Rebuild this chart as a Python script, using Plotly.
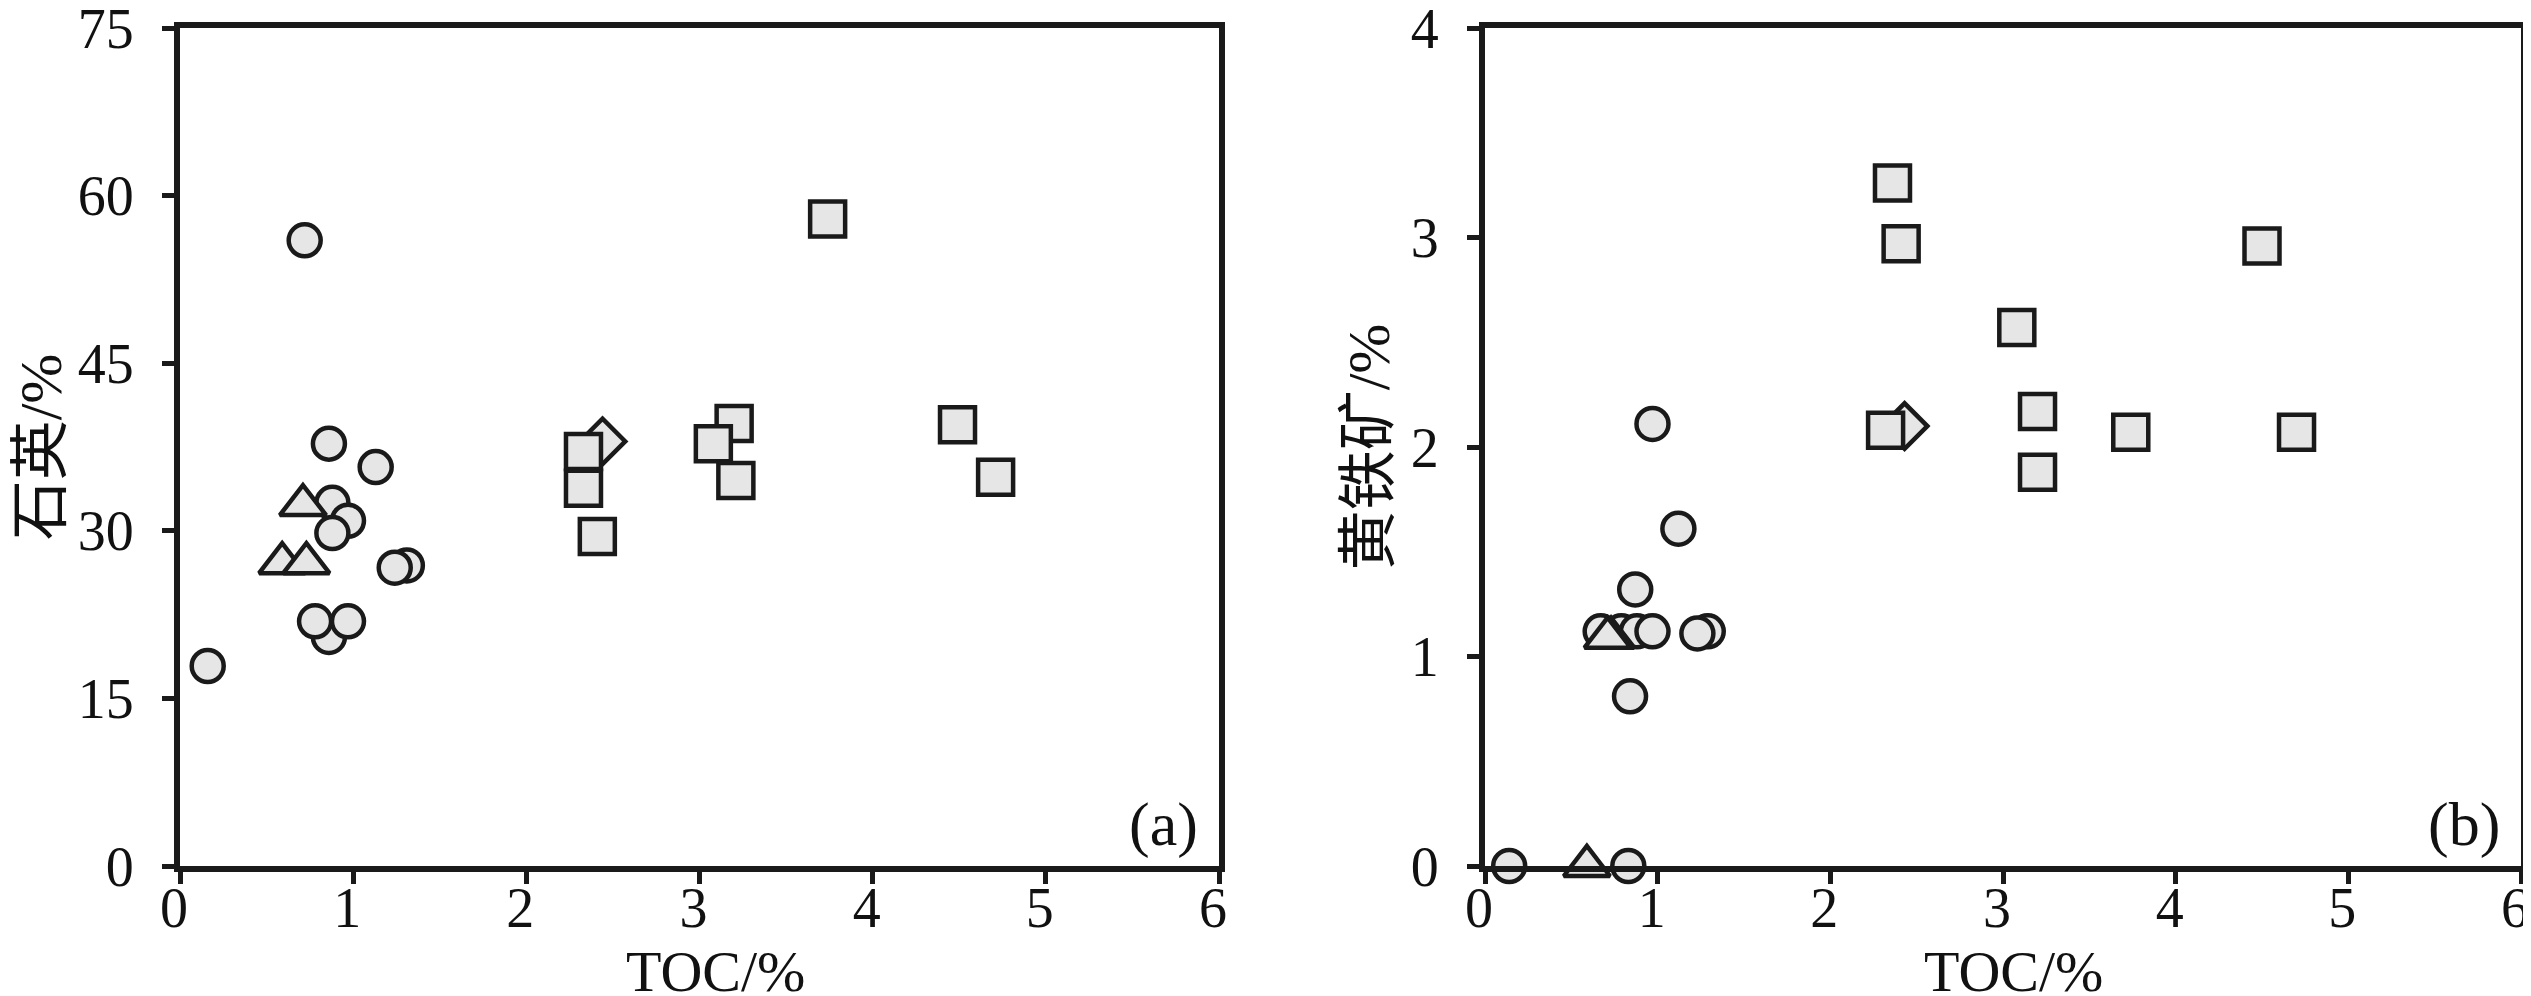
import plotly.graph_objects as go

# ---------------- data ----------------
# Panel (a): TOC vs quartz (石英)
a_circle_toc = [0.72, 0.86, 1.13, 0.88, 0.97, 0.88, 1.31, 1.24, 0.86, 0.97, 0.78, 0.16]
a_circle_qtz = [56.0, 37.8, 35.7, 32.5, 30.9, 29.8, 26.9, 26.7, 20.5, 21.9, 21.9, 17.9]
a_tri_toc = [0.71, 0.59, 0.73]
a_tri_qtz = [32.3, 27.1, 27.1]
a_dia_toc = [2.44]
a_dia_qtz = [38.0]
a_sq_toc = [2.33, 2.33, 2.41, 3.20, 3.08, 3.21, 3.74, 4.49, 4.71]
a_sq_qtz = [37.1, 33.8, 29.5, 39.6, 37.8, 34.5, 57.9, 39.5, 34.8]

# Panel (b): TOC vs pyrite (黄铁矿)
b_circle_toc = [0.14, 0.83, 0.84, 0.87, 1.12, 0.97, 0.67, 0.79, 0.88, 0.97, 1.29, 1.23]
b_circle_pyr = [0.0, 0.0, 0.81, 1.32, 1.61, 2.11, 1.12, 1.12, 1.12, 1.12, 1.12, 1.11]
b_tri_toc = [0.59, 0.73, 0.71]
b_tri_pyr = [0.0, 1.09, 1.09]
b_dia_toc = [2.43]
b_dia_pyr = [2.10]
b_sq_toc = [2.36, 2.41, 2.32, 3.08, 3.20, 3.20, 3.74, 4.50, 4.70]
b_sq_pyr = [3.26, 2.97, 2.08, 2.57, 2.17, 1.88, 2.07, 2.96, 2.07]

x_ticks = [0, 1, 2, 3, 4, 5, 6]
a_y_ticks = [0, 15, 30, 45, 60, 75]
b_y_ticks = [0, 1, 2, 3, 4]

x_title = "TOC/%"
a_y_title = "石英/%"
b_y_title = "黄铁矿/%"

# ---------------- style ----------------
FILL = "#e6e6e6"
EDGE = "#1a1a1a"
FONT = "Liberation Serif, Times New Roman, Noto Sans CJK SC, serif"


def mk(x, y, symbol, size, xa, ya):
    return go.Scatter(
        x=x, y=y, mode="markers", xaxis=xa, yaxis=ya, cliponaxis=False,
        showlegend=False, hoverinfo="skip",
        marker=dict(symbol=symbol, size=size, color=FILL,
                    line=dict(color=EDGE, width=4.5)),
    )


fig = go.Figure()
for xa, ya, ct, cv, tt, tv, dt, dv, st, sv in [
    ("x", "y", a_circle_toc, a_circle_qtz, a_tri_toc, a_tri_qtz, a_dia_toc, a_dia_qtz, a_sq_toc, a_sq_qtz),
    ("x2", "y2", b_circle_toc, b_circle_pyr, b_tri_toc, b_tri_pyr, b_dia_toc, b_dia_pyr, b_sq_toc, b_sq_pyr),
]:
    fig.add_trace(mk(ct, cv, "circle", 32, xa, ya))
    fig.add_trace(mk(tt, tv, "triangle-up", 40, xa, ya))
    fig.add_trace(mk(dt, dv, "diamond", 35, xa, ya))
    fig.add_trace(mk(st, sv, "square", 35, xa, ya))

axis_common = dict(
    showline=True, linewidth=6, linecolor=EDGE, mirror=True,
    ticks="outside", ticklen=12, tickwidth=5, tickcolor=EDGE,
    showgrid=False, zeroline=False, automargin=False,
    tickfont=dict(family=FONT, size=56, color="#111"),
    ticklabeloverflow="allow",
)

# the page body adds a small offset; figure is sized to fit the window
W, H = 2523, 988
ML, MR, MT, MB = 172, 10, 20, 130
pw = W - ML - MR
d1 = (1211 - ML) / pw
d2 = (1477 - ML) / pw

TFONT = dict(family=FONT, size=60, color="#111")

fig.update_layout(
    width=W, height=H, autosize=False,
    margin=dict(l=ML, r=MR, t=MT, b=MB),
    paper_bgcolor="white", plot_bgcolor="white",
    font=dict(family=FONT, color="#111"),
    xaxis=dict(domain=[0, d1], range=[0, 6], tickvals=x_ticks,
               anchor="y", ticklabelstandoff=-24, ticklabelshift=-6, **axis_common),
    yaxis=dict(domain=[0, 1], range=[0, 75], tickvals=a_y_ticks, anchor="x",
               ticklabelstandoff=17,
               title=dict(text=a_y_title, font=TFONT, standoff=22),
               **axis_common),
    xaxis2=dict(domain=[d2, 1], range=[0, 6], tickvals=x_ticks,
                anchor="y2", ticklabelstandoff=-24, ticklabelshift=-6, **axis_common),
    yaxis2=dict(domain=[0, 1], range=[0, 4], tickvals=b_y_ticks, anchor="x2",
                ticklabelstandoff=17,
                title=dict(text=b_y_title, font=TFONT, standoff=4),
                **axis_common),
    annotations=[
        dict(text=x_title, xref="x domain", yref="paper", x=0.515, y=0,
             yshift=-140, xanchor="center", yanchor="bottom", showarrow=False,
             font=dict(family=FONT, size=58, color="#111")),
        dict(text=x_title, xref="x2 domain", yref="paper", x=0.51, y=0,
             yshift=-140, xanchor="center", yanchor="bottom", showarrow=False,
             font=dict(family=FONT, size=58, color="#111")),
        dict(text="(a)", xref="x domain", yref="y domain", x=0.982, y=0.006,
             xanchor="right", yanchor="bottom", showarrow=False,
             font=dict(family=FONT, size=62, color="#111")),
        dict(text="(b)", xref="x2 domain", yref="y2 domain", x=0.982, y=0.006,
             xanchor="right", yanchor="bottom", showarrow=False,
             font=dict(family=FONT, size=62, color="#111")),
    ],
)

fig.write_html("out.html")
